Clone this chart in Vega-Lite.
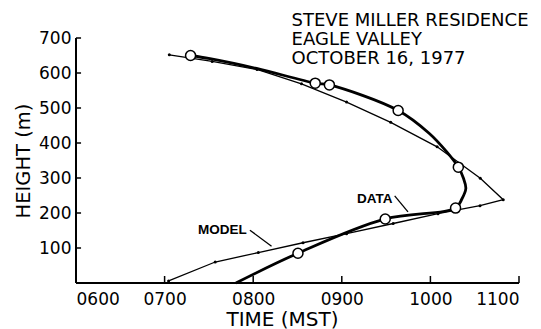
{
  "$schema": "https://vega.github.io/schema/vega-lite/v6.json",
  "width": 443,
  "height": 245,
  "autosize": {"type": "none"},
  "padding": {"left": 76, "top": 38, "right": 22, "bottom": 46},
  "background": "white",
  "config": {
    "view": {"stroke": null},
    "font": "DejaVu Sans",
    "axis": {
      "grid": false,
      "domain": false,
      "ticks": false,
      "tickSize": 0,
      "labelColor": "black",
      "labelFont": "DejaVu Sans",
      "labelFontSize": 17,
      "titleColor": "black",
      "titleFont": "DejaVu Sans",
      "titleFontWeight": "normal"
    }
  },
  "datasets": {
    "model": [
      {"time": 7.053, "height": 652},
      {"time": 7.537, "height": 633},
      {"time": 8.043, "height": 610},
      {"time": 8.545, "height": 569},
      {"time": 9.054, "height": 517},
      {"time": 9.552, "height": 459},
      {"time": 10.076, "height": 389},
      {"time": 10.563, "height": 299},
      {"time": 10.822, "height": 238},
      {"time": 10.560, "height": 221},
      {"time": 10.086, "height": 198},
      {"time": 9.580, "height": 170},
      {"time": 9.054, "height": 141},
      {"time": 8.562, "height": 115},
      {"time": 8.058, "height": 87},
      {"time": 7.571, "height": 60},
      {"time": 7.045, "height": 6}
    ],
    "observed": [
      {"time": 7.805, "height": 0, "sounding": false},
      {"time": 8.505, "height": 85, "sounding": true},
      {"time": 9.490, "height": 183, "sounding": true},
      {"time": 10.284, "height": 214, "sounding": true},
      {"time": 10.355, "height": 240, "sounding": false},
      {"time": 10.400, "height": 270, "sounding": false},
      {"time": 10.372, "height": 300, "sounding": false},
      {"time": 10.315, "height": 331, "sounding": true},
      {"time": 10.180, "height": 376, "sounding": false},
      {"time": 9.985, "height": 428, "sounding": false},
      {"time": 9.636, "height": 493, "sounding": true},
      {"time": 8.860, "height": 566, "sounding": true},
      {"time": 8.700, "height": 571, "sounding": true},
      {"time": 8.038, "height": 613, "sounding": false},
      {"time": 7.512, "height": 641, "sounding": false},
      {"time": 7.293, "height": 650, "sounding": true}
    ],
    "callouts": [
      {"label": "DATA", "time": 9.372, "height": 239, "from_time": 9.597, "from_height": 249, "to_time": 9.747, "to_height": 203},
      {"label": "MODEL", "time": 7.653, "height": 151, "from_time": 7.963, "from_height": 151, "to_time": 8.207, "to_height": 105}
    ],
    "time_ticks": [
      {"time": 7}, {"time": 8}, {"time": 9}, {"time": 10}, {"time": 11}
    ],
    "height_ticks": [
      {"height": 100}, {"height": 200}, {"height": 300}, {"height": 400},
      {"height": 500}, {"height": 600}, {"height": 700}
    ]
  },
  "layer": [
    {
      "data": {"name": "model"},
      "mark": {"type": "line", "color": "black", "strokeWidth": 1.3, "interpolate": "linear",
               "point": {"filled": true, "color": "black", "size": 9}},
      "encoding": {
        "x": {
          "field": "time", "type": "quantitative",
          "scale": {"domain": [6, 11], "nice": false, "zero": false},
          "axis": {
            "title": "TIME (MST)",
            "titleFontSize": 20,
            "titlePadding": 2,
            "titleX": 206,
            "values": [6, 7, 8, 9, 10, 11],
            "labelExpr": "(datum.value < 10 ? '0' : '') + datum.value + '00'",
            "labelPadding": 8
          }
        },
        "y": {
          "field": "height", "type": "quantitative",
          "scale": {"domain": [0, 700], "nice": false},
          "axis": {
            "title": "HEIGHT (m)",
            "titleFontSize": 19.5,
            "titlePadding": 5,
            "values": [100, 200, 300, 400, 500, 600, 700],
            "labelPadding": 5
          }
        },
        "order": {"field": "height", "type": "quantitative"}
      }
    },
    {
      "data": {"values": [{}]},
      "mark": {"type": "rule", "color": "black", "strokeWidth": 2},
      "encoding": {
        "x": {"datum": 6, "type": "quantitative"},
        "x2": {"datum": 11},
        "y": {"datum": 0, "type": "quantitative"}
      }
    },
    {
      "data": {"values": [{}]},
      "mark": {"type": "rule", "color": "black", "strokeWidth": 2},
      "encoding": {
        "x": {"datum": 6, "type": "quantitative"},
        "y": {"datum": 0, "type": "quantitative"},
        "y2": {"datum": 700}
      }
    },
    {
      "data": {"name": "time_ticks"},
      "mark": {"type": "rule", "color": "black", "strokeWidth": 1.5},
      "encoding": {
        "x": {"field": "time", "type": "quantitative"},
        "y": {"datum": 0, "type": "quantitative"},
        "y2": {"datum": 20}
      }
    },
    {
      "data": {"name": "height_ticks"},
      "mark": {"type": "rule", "color": "black", "strokeWidth": 1.5},
      "encoding": {
        "y": {"field": "height", "type": "quantitative"},
        "x": {"datum": 6, "type": "quantitative"},
        "x2": {"datum": 6.057}
      }
    },
    {
      "data": {"name": "observed"},
      "mark": {"type": "line", "color": "black", "strokeWidth": 2.8, "interpolate": "catmull-rom"},
      "encoding": {
        "x": {"field": "time", "type": "quantitative"},
        "y": {"field": "height", "type": "quantitative"},
        "order": {"field": "height", "type": "quantitative"}
      }
    },
    {
      "data": {"name": "observed"},
      "transform": [{"filter": "datum.sounding"}],
      "mark": {"type": "point", "shape": "circle", "filled": false, "fill": "white", "fillOpacity": 1,
               "stroke": "black", "strokeWidth": 1.5, "size": 100, "opacity": 1},
      "encoding": {
        "x": {"field": "time", "type": "quantitative"},
        "y": {"field": "height", "type": "quantitative"}
      }
    },
    {
      "data": {"name": "callouts"},
      "mark": {"type": "rule", "color": "black", "strokeWidth": 1.3},
      "encoding": {
        "x": {"field": "from_time", "type": "quantitative"},
        "y": {"field": "from_height", "type": "quantitative"},
        "x2": {"field": "to_time"},
        "y2": {"field": "to_height"}
      }
    },
    {
      "data": {"name": "callouts"},
      "mark": {"type": "text", "font": "Liberation Sans", "fontSize": 13.5, "fontWeight": "bold", "color": "black",
               "align": "center", "baseline": "middle"},
      "encoding": {
        "x": {"field": "time", "type": "quantitative"},
        "y": {"field": "height", "type": "quantitative"},
        "text": {"field": "label"}
      }
    },
    {
      "data": {"values": [{}]},
      "mark": {"type": "text", "font": "DejaVu Sans", "fontSize": 18, "color": "black",
               "align": "left", "baseline": "alphabetic", "lineHeight": 19,
               "text": ["STEVE MILLER RESIDENCE", "EAGLE VALLEY", "OCTOBER 16, 1977"]},
      "encoding": {
        "x": {"datum": 8.433, "type": "quantitative"},
        "y": {"datum": 733, "type": "quantitative"}
      }
    }
  ]
}
